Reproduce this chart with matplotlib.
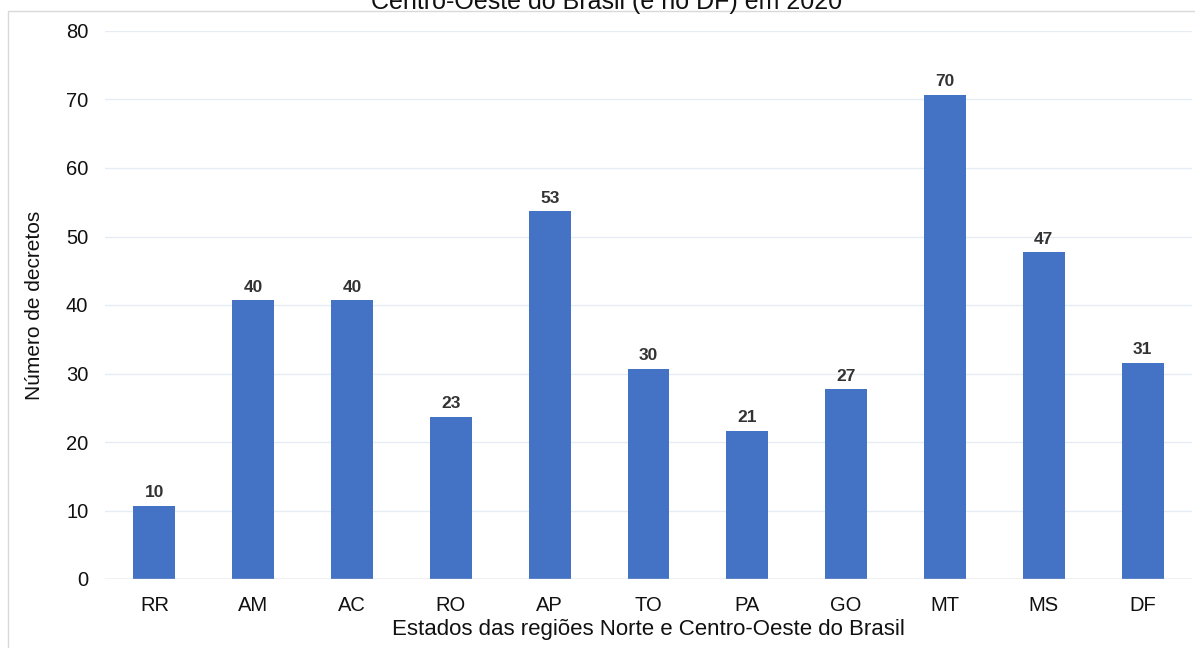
import numpy as np
import matplotlib.pyplot as plt
from matplotlib.patches import Rectangle

plt.rcParams['font.family'] = ['Liberation Sans', 'DejaVu Sans']

# Dados
estados = ['RR', 'AM', 'AC', 'RO', 'AP', 'TO', 'PA', 'GO', 'MT', 'MS', 'DF']
decretos = [10.7, 40.7, 40.7, 23.7, 53.7, 30.7, 21.6, 27.7, 70.7, 47.7, 31.6]
rotulos = [10, 40, 40, 23, 53, 30, 21, 27, 70, 47, 31]
yticks = [0, 10, 20, 30, 40, 50, 60, 70, 80]

fig = plt.figure(figsize=(11.95, 6.48), dpi=100)
ax = fig.add_axes([105/1195, 1 - 579/648, 1087/1195, 548/648])

x = np.arange(len(estados))
bars = ax.bar(x, decretos, width=0.425, color='#4472C4', zorder=3)

for b, r in zip(bars, rotulos):
    ax.annotate(str(r), (b.get_x() + b.get_width() / 2, b.get_height()),
                xytext=(0, 4), textcoords='offset points', ha='center', va='bottom',
                fontsize=12.5, fontweight='bold', color='#333333')

ax.set_xlim(-0.5, len(estados) - 0.5)
ax.set_ylim(0, 80)
ax.set_yticks(yticks)
ax.set_xticks(x)
ax.set_xticklabels(estados)
ax.tick_params(axis='both', length=0, labelsize=14.5, colors='#111111')
ax.tick_params(axis='x', pad=12)
ax.tick_params(axis='y', pad=12)
ax.grid(axis='y', color='#e6ecf3', linewidth=1, zorder=0)
for s in ax.spines.values():
    s.set_visible(False)
ax.axhline(0, color='#cccccc', linewidth=1, zorder=4)

ax.set_xlabel('Estados das regiões Norte e Centro-Oeste do Brasil', fontsize=16, color='#111111', labelpad=3)
ax.set_ylabel('Número de decretos', fontsize=15, color='#111111', labelpad=16)

fig.text(607/1195, 1 - 2/648, 'Centro-Oeste do Brasil (e no DF) em 2020', ha='center', va='center',
         fontsize=18, color='#111111')

# moldura cinza clara
fig.patches.append(Rectangle((8/1195, -0.05), 1.2, 1 - 11/648 + 0.05, transform=fig.transFigure,
                             fill=False, edgecolor='#d9d9d9', linewidth=1))

fig.savefig('out.png', dpi=100)
